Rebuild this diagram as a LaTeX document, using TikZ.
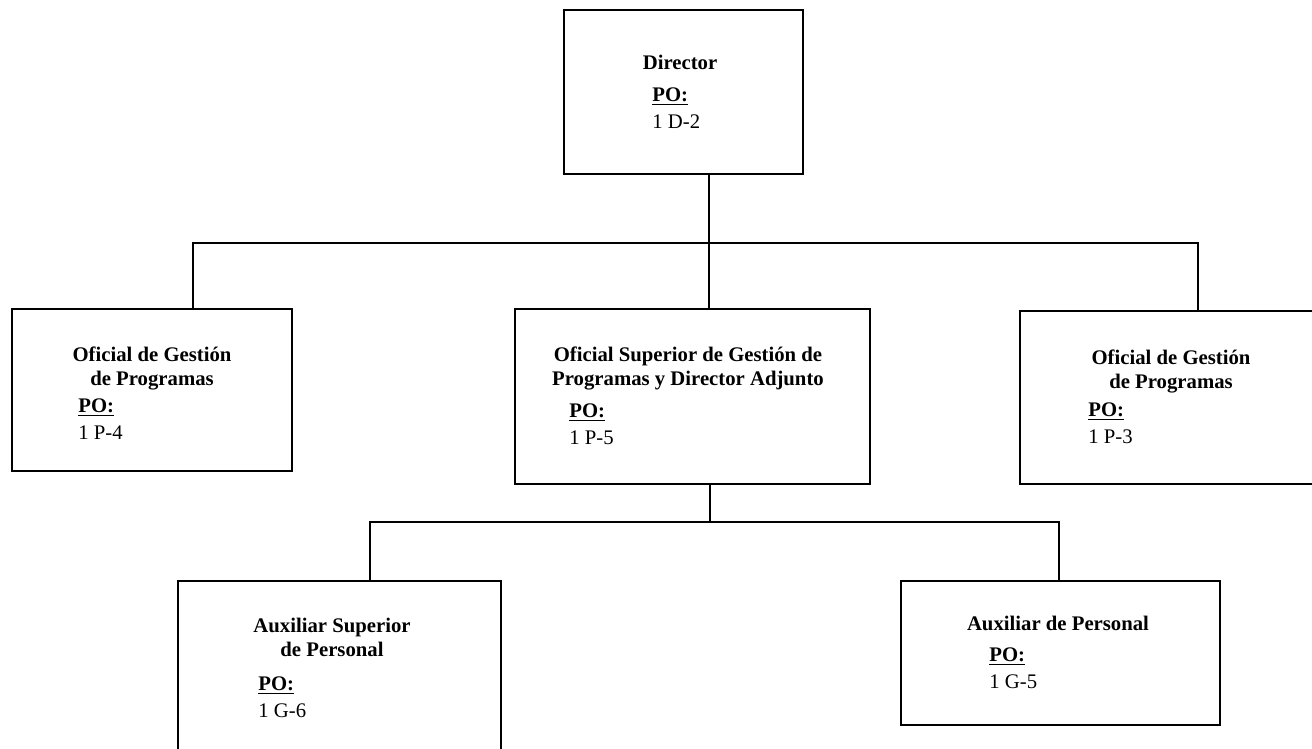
\documentclass[tikz,border=0pt]{standalone}
\usepackage{fontspec}
\setmainfont{Liberation Serif}

\begin{document}
\begin{tikzpicture}[x=0.02cm, y=-0.02cm,
    box/.style={draw=black, line width=1.3pt, anchor=north west, inner sep=0pt},
    title/.style={anchor=base, align=center, inner sep=0pt, font=\fontsize{11.8}{13.5}\selectfont\bfseries},
    post/.style={anchor=base west, align=left, inner sep=0pt, font=\fontsize{11.8}{15}\selectfont},
    link/.style={draw=black, line width=0.6pt}]
  \clip (0,0) rectangle (1312,748);

  % boxes
  \node[box, minimum width=4.78cm, minimum height=3.28cm] (director) at (563,9) {};
  \node[box, minimum width=5.6cm, minimum height=3.24cm] (ogpleft) at (11,308) {};
  \node[box, minimum width=7.1cm, minimum height=3.5cm] (osgp) at (514,308) {};
  \node[box, minimum width=6.22cm, minimum height=3.46cm] (ogpright) at (1019,310) {};
  \node[box, minimum width=6.46cm, minimum height=3.8cm] (asp) at (177,580) {};
  \node[box, minimum width=6.38cm, minimum height=2.88cm] (ap) at (900,580) {};

  % texts (base = last line)
  \node[title] (director-title) at (680,69) {Director};
  \node[post] (director-po) at (652,128) {\textbf{\underline{PO:}}\\ 1 D-2};
  \node[title] (ogpleft-title) at (152,385) {Oficial de Gestión\\ de Programas};
  \node[post] (ogpleft-po) at (78,439) {\textbf{\underline{PO:}}\\ 1 P-4};
  \node[title] (osgp-title) at (688,385) {Oficial Superior de Gestión de\\ Programas y Director Adjunto};
  \node[post] (osgp-po) at (569,444) {\textbf{\underline{PO:}}\\ 1 P-5};
  \node[title] (ogpright-title) at (1171,388) {Oficial de Gestión\\ de Programas};
  \node[post] (ogpright-po) at (1088,443) {\textbf{\underline{PO:}}\\ 1 P-3};
  \node[title] (asp-title) at (332,656) {Auxiliar Superior\\ de Personal};
  \node[post] (asp-po) at (258,717) {\textbf{\underline{PO:}}\\ 1 G-6};
  \node[title] (ap-title) at (1058,630) {Auxiliar de Personal};
  \node[post] (ap-po) at (989,688) {\textbf{\underline{PO:}}\\ 1 G-5};

  % connectors
  \coordinate (trunk) at (709,243);
  \coordinate (busone-west) at (193,243);
  \coordinate (busone-east) at (1198,243);
  \coordinate (bustwo-mid) at (710,522);
  \coordinate (bustwo-west) at (370,522);
  \coordinate (bustwo-east) at (1059,522);

  \draw[link] (trunk |- director.south) -- (trunk |- osgp.north);
  \draw[link] (busone-west |- ogpleft.north) -- (busone-west) -- (busone-east) -- (busone-east |- ogpright.north);
  \draw[link] (bustwo-mid |- osgp.south) -- (bustwo-mid);
  \draw[link] (bustwo-west |- asp.north) -- (bustwo-west) -- (bustwo-east) -- (bustwo-east |- ap.north);
\end{tikzpicture}
\end{document}
